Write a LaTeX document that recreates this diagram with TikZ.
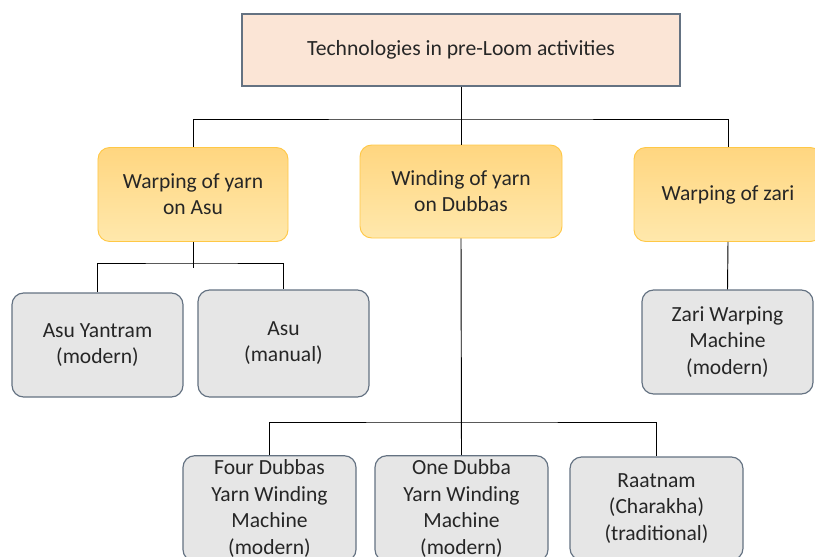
\documentclass[tikz,border=0pt]{standalone}
\usepackage{fontspec}
\setmainfont{Carlito}
\usetikzlibrary{calc}

\definecolor{headfill}{RGB}{251,229,214}
\definecolor{taskhigh}{RGB}{255,214,128}
\definecolor{tasklow}{RGB}{255,232,172}
\definecolor{taskline}{RGB}{255,200,70}
\definecolor{techfill}{RGB}{230,230,230}
\definecolor{boxline}{RGB}{100,114,130}
\definecolor{txt}{RGB}{38,38,38}

\begin{document}
\begin{tikzpicture}[x=0.03cm, y=-0.03cm,
head_style/.style={rectangle, draw=boxline, line width=1pt, fill=headfill, minimum width=13.14cm, minimum height=2.16cm, text=txt, font=\fontsize{18.5}{22.5}\selectfont},
task_style/.style={rectangle, rounded corners=3.5mm, draw=taskline, line width=0.8pt, top color=taskhigh, bottom color=tasklow, minimum height=2.82cm, align=center, text=txt, font=\fontsize{18.4}{22.3}\selectfont},
tech_style/.style={rectangle, rounded corners=3.5mm, draw=boxline, line width=1pt, fill=techfill, minimum width=5.13cm, minimum height=3.12cm, align=center, text=txt, font=\fontsize{18.4}{22.3}\selectfont},
low_style/.style={tech_style, minimum width=5.19cm, minimum height=3.09cm, font=\fontsize{18.4}{22.7}\selectfont},
link_style/.style={black, line width=0.8pt},
		]

\clip (0,0) rectangle (815,556);

	\node[head_style] at (461,50) (tech) {Technologies in pre-Loom activities};

	\node[task_style, minimum width=5.7cm] at (193,194.5) (warpasu) {Warping of yarn\\on Asu};
	\node[task_style, minimum width=6.06cm, minimum height=2.79cm] at (461,191.5) (winddub) {Winding of yarn\\on Dubbas};
	\node[task_style, minimum width=5.64cm] at (728,194.5) (warpzari) {Warping of zari};

	\node[tech_style] at (97.5,345) (yantram) {Asu Yantram\\(modern)};
	\node[tech_style, minimum height=3.21cm] at (283.5,343.5) (asu) {Asu\\(manual)};
	\node[tech_style] at (727.5,342) (zarimach) {Zari Warping\\Machine\\(modern)};

	\node[low_style] at (269.5,508.5) (fourdub) {Four Dubbas\\Yarn Winding\\Machine\\(modern)};
	\node[low_style] at (461.5,508.5) (onedub) {One Dubba\\Yarn Winding\\Machine\\(modern)};
	\node[low_style] at (656.5,508.5) (raatnam) {Raatnam\\(Charakha)\\(traditional)};

	% junctions of the tree
	\coordinate (topbar) at (461,119);
	\coordinate (asubar) at (193,263);
	\coordinate (dubbar) at (461,422);

	\draw[link_style] (tech.south) -- (winddub.north);
	\draw[link_style] (warpasu.north) |- (topbar) -| (warpzari.north);

	\draw[link_style] (warpasu.south) -- ($(asubar)+(0,5)$);
	\draw[link_style] (yantram.north) |- (asubar) -| (asu.north);

	\draw[link_style] (warpzari.south) -- (zarimach.north);

	\draw[link_style] (winddub.south) -- (onedub.north);
	\draw[link_style] (fourdub.north) |- (dubbar) -| (raatnam.north);

\end{tikzpicture}
\end{document}
